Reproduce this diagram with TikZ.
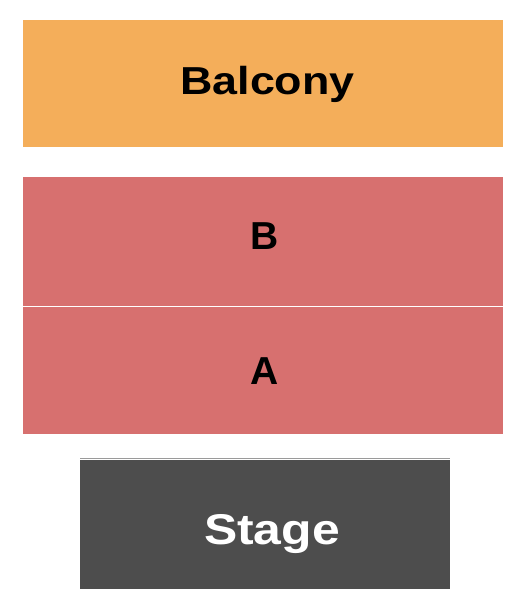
\documentclass[tikz,border=0pt]{standalone}
\usepackage{fontspec}
\setmainfont{Liberation Sans}
\usetikzlibrary{positioning}
\definecolor{balconycol}{HTML}{F4AE5A}
\definecolor{floorcol}{HTML}{D7706F}
\definecolor{stagecol}{HTML}{4D4D4D}
\definecolor{rimcol}{HTML}{9A9A9A}

\begin{document}
\begin{tikzpicture}[x=1pt, y=-1pt,
    section/.style={draw=none, inner sep=0pt, outer sep=0pt, anchor=north west},
    lbl/.style={anchor=base, inner sep=0pt, font=\fontsize{39}{39}\selectfont\bfseries}]
    \useasboundingbox (0,0) rectangle (525,602);
    \node [section, fill=balconycol, minimum width=480pt, minimum height=127pt] (balcony) at (23,20) {};
    \node [section, fill=floorcol, minimum width=480pt, minimum height=128.5pt] (secb) at (23,177) {};
    \node [section, fill=floorcol, minimum width=480pt, minimum height=127pt] (seca) at (23,307) {};
    \node [section, fill=stagecol, minimum width=369.5pt, minimum height=129pt] (stage) at (80,460) {};
    \draw [rimcol, line width=1pt] ([yshift=1.5pt]stage.north west) -- ([yshift=1.5pt]stage.north east);
    \node [lbl] (balconytext) at (267.5,94) {\scalebox{1.15}[1]{Balcony}};
    \node [lbl] (btext) at (264.8,249.3) {B};
    \node [lbl] (atext) at (264.5,384) {A};
    \node [lbl, text=white, font=\fontsize{43}{43}\selectfont\bfseries] (stagetext) at (272,544.3) {\scalebox{1.16}[1]{Stage}};
\end{tikzpicture}
\end{document}
